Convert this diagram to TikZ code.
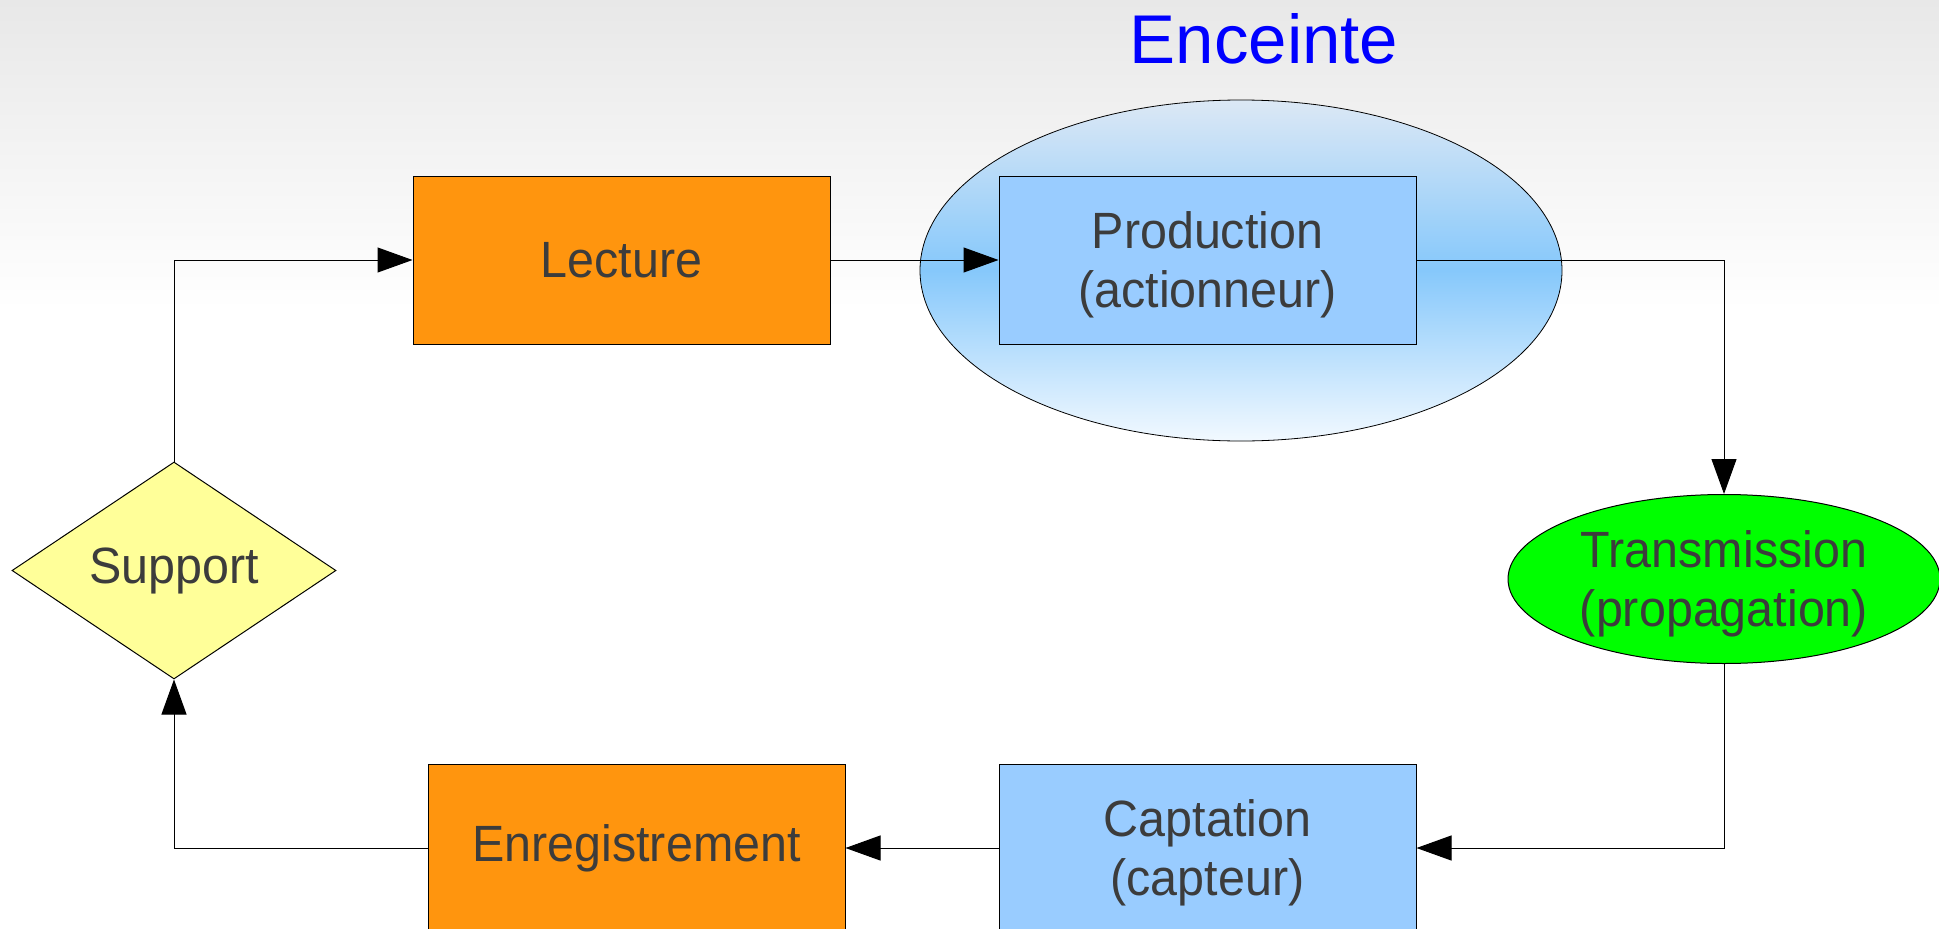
\documentclass[tikz,border=0pt]{standalone}
\usepackage{fontspec}
\setmainfont{Liberation Sans}
\newfontfamily\condfont[FakeStretch=0.95]{Liberation Sans}
\usetikzlibrary{shapes.geometric,arrows.meta}
\definecolor{boxorange}{HTML}{FF950E}
\definecolor{boxblue}{HTML}{99CCFF}
\definecolor{diayellow}{HTML}{FFFF99}
\definecolor{elgreen}{HTML}{00FF00}
\definecolor{txtgray}{HTML}{3C3C3C}
\definecolor{bgtop}{HTML}{E8E8E8}
\definecolor{encTop}{HTML}{DCE8F5}
\definecolor{encMid}{HTML}{86C8FB}
\definecolor{encBot}{HTML}{F2F9FF}
\begin{document}
\begin{tikzpicture}[x=1pt,y=-1pt,
  lbl/.style={text=txtgray, font=\condfont\fontsize{51}{59}\selectfont, align=center},
  procbox/.style={lbl, draw=black, line width=1pt, rectangle, minimum width=417pt, minimum height=168pt, inner sep=0pt},
  conn/.style={draw=black, line width=1pt, -{Triangle[length=35pt,width=25pt]}}
]
\useasboundingbox (0,0) rectangle (1939,929);
\clip (0,0) rectangle (1939,929);
\fill[white] (0,0) rectangle (1939,929);
\shade[top color=bgtop, bottom color=white] (0,0) rectangle (1939,310);

% enclosure
\node[ellipse, draw=black, line width=0.8pt, minimum width=642pt, minimum height=341pt, inner sep=0pt,
      top color=encTop, bottom color=encBot, middle color=encMid] (enceinte) at (1241,270.5) {};
\node[anchor=base, text=blue, font=\fontsize{69}{80}\selectfont] (enclabel) at (1264,63) {Enceinte};

% nodes
\node[procbox, fill=boxorange] (lecture) at (621.5,260) {Lecture};
\node[procbox, fill=boxblue] (production) at (1207.5,260) {Production\\\smash{(actionneur)}};
\node[lbl, ellipse, draw=black, line width=1pt, fill=elgreen, minimum width=432pt, minimum height=169pt, inner sep=0pt] (transmission) at (1724,579) {Transmission\\\smash{(propagation)}};
\node[procbox, fill=boxblue] (captation) at (1207.5,848) {Captation\\\smash{(capteur)}};
\node[procbox, fill=boxorange] (enregistrement) at (636.5,848) {Enregistrement};
\node[lbl, diamond, aspect=1.5, draw=black, line width=1pt, fill=diayellow, minimum width=324pt, minimum height=217pt, inner sep=0pt] (support) at (174,570.5) {Support};

% connectors
\draw[conn] (support.north) |- (lecture.west);
\draw[conn] (lecture.east) -- (production.west);
\draw[conn] (production.east) -| (transmission.north);
\draw[conn] (transmission.south) |- (captation.east);
\draw[conn] (captation.west) -- (enregistrement.east);
\draw[conn] (enregistrement.west) -| (support.south);
\end{tikzpicture}
\end{document}
